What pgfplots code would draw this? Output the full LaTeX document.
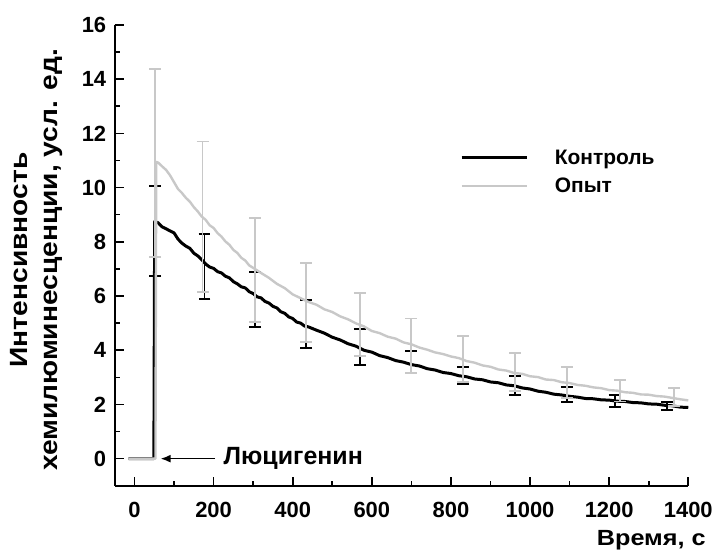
\documentclass[border=0pt]{standalone}
\usepackage{fontspec}
\setmainfont{Liberation Sans}
\newfontfamily\widefont{Liberation Sans}[FakeStretch=1.13]
\newfontfamily\xfont{Liberation Sans}[FakeStretch=1.15]
\usepackage{pgfplots}
\pgfplotsset{compat=1.18}
\usetikzlibrary{arrows.meta}
\definecolor{lgray}{RGB}{200,200,200}

\begin{document}
\begin{tikzpicture}
\begin{axis}[
    scale only axis,
    width=575pt, height=462pt,
    xmin=-50, xmax=1400,
    ymin=-1, ymax=16,
    xtick={0,200,...,1400},
    ytick={0,2,...,16},
    minor x tick num=1,
    minor y tick num=1,
    axis x line*=bottom,
    axis y line*=left,
    axis line style={line width=1.6pt},
    tick align=inside,
    major tick length=9pt,
    minor tick length=5pt,
    tick style={line width=1.6pt, black},
    /pgf/number format/assume math mode=true,
    /pgf/number format/1000 sep={},
    ticklabel style={font=\bfseries\fontsize{22}{24}\selectfont},
    yticklabel style={xshift=-5pt},
    xticklabel style={yshift=-13pt},
    xlabel={Время, с},
    xlabel style={font=\xfont\bfseries\fontsize{22}{24}\selectfont, at={(rel axis cs:1,0)}, anchor=north east, xshift=21pt, yshift=-41pt},
    ylabel={Интенсивность\\хемилюминесценции, усл. ед.},
    ylabel style={font=\widefont\bfseries\fontsize{25}{30}\selectfont, align=center,
        at={(rel axis cs:0,0.49)}, anchor=south, yshift=49pt},
    legend style={at={(axis cs:815,11.55)}, anchor=north west, draw=none, fill=none,
        font=\bfseries\fontsize{21}{23}\selectfont, row sep=8pt},
    legend cell align={left},
    legend image code/.code={\draw[#1] (0pt,0pt) -- (66pt,0pt); \path (90pt,0pt);},
]
% Контроль
\addplot[black, line width=3pt, line join=round] coordinates {
(-15,0) (49,0) (51,8.75) (60,8.70) (70,8.55) (80,8.48) (90,8.40) (100,8.33) (110,8.10) (120,7.95)
(130,7.84) (140,7.76) (150,7.58) (160,7.48) (170,7.34) (180,7.18) (190,7.07) (200,7.02)
(210,6.90) (220,6.85) (230,6.73) (240,6.67) (250,6.53) (260,6.45) (270,6.34) (280,6.30)
(290,6.16) (300,6.09) (310,5.97) (320,5.93) (330,5.80) (340,5.74) (350,5.62) (360,5.56)
(370,5.42) (380,5.36) (390,5.23) (400,5.17) (410,5.04) (420,5.00) (430,4.89) (440,4.86)
(460,4.74) (480,4.63) (500,4.48) (520,4.38) (540,4.24) (560,4.15) (580,4.00) (600,3.93)
(620,3.80) (640,3.73) (660,3.62) (680,3.56) (700,3.47) (720,3.42) (740,3.32) (760,3.27)
(780,3.18) (800,3.14) (820,3.06) (840,3.02) (860,2.94) (880,2.91) (900,2.83) (920,2.80)
(940,2.72) (960,2.69) (980,2.61) (1000,2.57) (1020,2.49) (1040,2.45) (1060,2.38) (1080,2.35)
(1100,2.30) (1120,2.27) (1140,2.22) (1160,2.21) (1180,2.17) (1200,2.16) (1220,2.12) (1240,2.11)
(1260,2.07) (1280,2.06) (1300,2.02) (1320,2.01) (1340,1.97) (1360,1.95) (1380,1.90) (1400,1.89)
};
\addlegendentry{Контроль}
\addplot[forget plot, draw=none, mark=none,
    error bars/.cd, y dir=both, y explicit,
    error bar style={draw=black, line width=1.8pt},
    error mark options={draw=black, line width=2pt, mark size=6pt, rotate=90}]
coordinates {
(52,8.4) +- (0,1.67)
(177,7.08) +- (0,1.2)
(305,5.86) +- (0,1.02)
(434,4.98) +- (0,0.88)
(570,4.13) +- (0,0.67)
(699,3.57) +- (0,0.42)
(831,3.08) +- (0,0.32)
(962,2.70) +- (0,0.35)
(1093,2.37) +- (0,0.27)
(1214,2.13) +- (0,0.23)
(1346,1.94) +- (0,0.14)
};
% Опыт
\addplot[lgray, line width=2.4pt, line join=round] coordinates {
(-15,0) (53,0) (55,10.95) (60,10.92) (70,10.78) (80,10.65) (90,10.45) (100,10.20) (110,9.95) (120,9.80)
(130,9.62) (140,9.48) (150,9.28) (160,9.12) (170,8.93) (180,8.81) (190,8.61) (200,8.51)
(210,8.32) (220,8.19) (230,8.01) (240,7.89) (250,7.70) (260,7.59) (270,7.41) (280,7.31)
(290,7.13) (300,7.04) (320,6.85) (340,6.67) (360,6.45) (380,6.29) (400,6.06) (420,5.92)
(440,5.78) (460,5.68) (480,5.51) (500,5.41) (520,5.25) (540,5.14) (560,4.99) (580,4.88)
(600,4.71) (620,4.63) (640,4.50) (660,4.43) (680,4.29) (700,4.22) (720,4.10) (740,4.02)
(760,3.92) (780,3.86) (800,3.77) (820,3.71) (840,3.60) (860,3.54) (880,3.44) (900,3.39)
(920,3.29) (940,3.25) (960,3.16) (980,3.13) (1000,3.04) (1020,3.01) (1040,2.92) (1060,2.90)
(1080,2.82) (1100,2.79) (1120,2.72) (1140,2.69) (1160,2.63) (1180,2.60) (1200,2.53) (1220,2.51)
(1240,2.45) (1260,2.43) (1280,2.37) (1300,2.36) (1320,2.31) (1340,2.29) (1360,2.24) (1380,2.19) (1400,2.15)
};
\addlegendentry{Опыт}
\addplot[forget plot, draw=none, mark=none,
    error bars/.cd, y dir=both, y explicit,
    error bar style={draw=lgray, line width=1.8pt},
    error mark options={draw=lgray, line width=1.8pt, mark size=6pt, rotate=90}]
coordinates {
(52,10.9) +- (0,3.47)
(172,8.93) +- (0,2.77)
(305,6.97) +- (0,1.92)
(434,5.76) +- (0,1.45)
(570,4.95) +- (0,1.17)
(699,4.17) +- (0,1.0)
(831,3.68) +- (0,0.85)
(962,3.19) +- (0,0.7)
(1093,2.82) +- (0,0.57)
(1227,2.51) +- (0,0.4)
(1364,2.27) +- (0,0.34)
};
% annotation
\draw[line width=1.6pt, -{Latex[length=10pt,width=8pt]}] (axis cs:204,0) -- (axis cs:66,0);
\node[anchor=west, font=\bfseries\fontsize{25}{27}\selectfont, inner sep=0pt] at (axis cs:225,0) {Люцигенин};
\end{axis}
% page margins as in the reference
\path ([xshift=-115pt,yshift=-66pt]current axis.south west) rectangle ([xshift=601pt,yshift=487pt]current axis.south west);
\end{tikzpicture}
\end{document}
